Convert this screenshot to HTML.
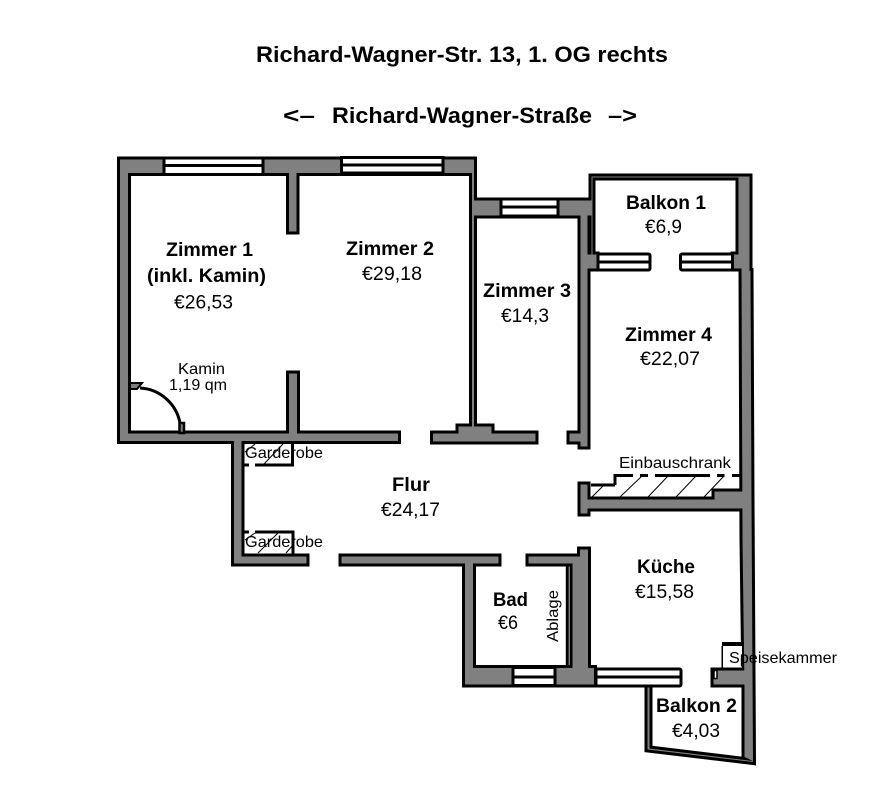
<!DOCTYPE html>
<html><head><meta charset="utf-8"><style>
html,body{margin:0;padding:0;background:#fff}
svg{display:block}
text{font-family:"Liberation Sans",sans-serif;fill:#000}
.b{font-weight:bold;font-size:19.5px}
.r{font-size:19.5px}
.s{font-size:16px}
.t{font-weight:bold;font-size:22px}
</style></head><body>
<svg width="890" height="792" viewBox="0 0 890 792" xmlns="http://www.w3.org/2000/svg">
<rect width="890" height="792" fill="#fff"/>
<defs><g id="w">
<rect x="120" y="159.5" width="353.5" height="13.5"/>
<rect x="120" y="159.5" width="8" height="281.5"/>
<rect x="120" y="433.5" width="278" height="7.5"/>
<rect x="289" y="159.5" width="7.5" height="72"/>
<rect x="289" y="373.5" width="8" height="67.5"/>
<rect x="472" y="159.5" width="2" height="275"/>
<polygon points="433,433.5 458.5,433.5 458.5,426.5 491.5,426.5 491.5,433.5 535.5,433.5 535.5,441.5 433,441.5"/>
<rect x="472" y="200.5" width="120" height="15"/>
<rect x="580.5" y="200.5" width="7" height="246"/>
<rect x="569.5" y="433.5" width="12.5" height="8"/>
<rect x="591.5" y="176.5" width="1" height="92"/>
<rect x="591.5" y="176.5" width="158" height="1"/>
<rect x="586" y="254.5" width="10.5" height="14"/>
<rect x="733.5" y="254.5" width="14.5" height="14"/>
<polygon points="738.5,176.5 749.5,176.5 749.5,271 750.5,271 751.5,500 753,761 744.5,757 744.5,690 742.5,540 741.5,268.5 738.5,268.5"/>
<polygon points="580.5,484.5 587.5,484.5 587.5,499.5 714.5,499.5 714.5,491.5 745,491.5 745,508.5 587.5,508.5 587.5,513.5 580.5,513.5"/>
<rect x="234" y="436" width="7.5" height="127.5"/>
<rect x="234" y="556.5" width="72.5" height="7"/>
<rect x="341.5" y="556.5" width="157" height="7"/>
<polygon points="528.5,556.5 580,556.5 580,549.5 588,549.5 588,668 572.5,668 572.5,563.5 528.5,563.5"/>
<rect x="465" y="556.5" width="8" height="128"/>
<rect x="465" y="668" width="129" height="16.5"/>
<rect x="713.5" y="670.5" width="32" height="14"/>
<polygon points="647.5,684 649.5,684 649.5,748.5 744.5,760 753,761 753,762 647.5,749.5"/>
</g></defs>
<use href="#w" fill="#000" stroke="#000" stroke-width="6" stroke-linejoin="miter"/>
<use href="#w" fill="#808080"/>

<!-- windows -->
<g fill="#fff" stroke="#000" stroke-width="3">
<rect x="164" y="158" width="99" height="16.5"/>
<rect x="341.5" y="157.5" width="101.5" height="15.5"/>
<rect x="501" y="199" width="57" height="17"/>
<rect x="598" y="254" width="52" height="16" rx="1.5"/>
<rect x="680.5" y="254" width="52" height="16" rx="1.5"/>
<rect x="513" y="667.5" width="42" height="18"/>
<rect x="596" y="669" width="85" height="17" rx="1.5"/>
<rect x="714" y="670.5" width="3" height="8" stroke-width="1.5"/>
</g>
<g stroke="#000" stroke-width="3">
<line x1="164" y1="165.5" x2="263" y2="165.5"/>
<line x1="341.5" y1="165" x2="443" y2="165"/>
<line x1="501" y1="207" x2="558" y2="207"/>
<line x1="598" y1="262" x2="650" y2="262"/>
<line x1="680.5" y1="262" x2="732.5" y2="262"/>
<line x1="513" y1="677" x2="555" y2="677"/>
<line x1="596" y1="677" x2="681" y2="677"/>
</g>

<!-- Kamin door -->
<path d="M140,388 A43,43 0 0 1 180,423" fill="none" stroke="#000" stroke-width="3"/>
<polygon points="130,383 142,383 137,389 130,389" fill="#808080" stroke="#000" stroke-width="2"/>
<rect x="179.5" y="423" width="4.5" height="10" fill="#808080" stroke="#000" stroke-width="2.5"/>

<!-- Ablage -->
<line x1="567.3" y1="565" x2="567.3" y2="666" stroke="#000" stroke-width="3"/>

<!-- Garderobe -->
<g stroke="#000" stroke-width="3" fill="none">
<path d="M244,465 H249 M255,465 H292.5 V443"/>
<path d="M244,532 H249 M255,532 H293 V554"/>
<path d="M615,485 H591 M615,485 V475.5 H633 M640,475.5 H648 M655,475.5 H710 M717,475.5 H724.5 M732,475.5 H740" />
</g>
<g stroke="#000" stroke-width="1" fill="none">
<path d="M245,452 L255,444 M264,464 L283,444"/>
<path d="M245,540 L255,533 M258,553 L278,533 M286,553 L293,545"/>
<path d="M592,497 L603,486 M620,497 L642,476 M648,497 L668,476 M676,497 L696,476 M704,497 L724,476"/>
<path d="M722,646 V668"/>
</g>
<path d="M722,644 H744" stroke="#000" stroke-width="4"/>
<rect x="723" y="646" width="19" height="21.5" fill="#fff"/>
<path d="M722.5,646 V668 M722,668 H744" stroke="#000" stroke-width="1"/>

<!-- titles -->
<text class="t" x="256" y="62" textLength="412" lengthAdjust="spacingAndGlyphs">Richard-Wagner-Str. 13, 1. OG rechts</text>
<text class="t" x="283" y="123" textLength="32" lengthAdjust="spacingAndGlyphs">&lt;–</text>
<text class="t" x="332" y="123" textLength="260" lengthAdjust="spacingAndGlyphs">Richard-Wagner-Straße</text>
<text class="t" x="608" y="123" textLength="29" lengthAdjust="spacingAndGlyphs">–&gt;</text>

<!-- rooms -->
<text class="b" x="166" y="256" textLength="87" lengthAdjust="spacingAndGlyphs">Zimmer 1</text>
<text class="b" x="147" y="282" textLength="119" lengthAdjust="spacingAndGlyphs">(inkl. Kamin)</text>
<text class="r" x="174" y="308.5" textLength="59" lengthAdjust="spacingAndGlyphs">€26,53</text>
<text class="b" x="346" y="255" textLength="88" lengthAdjust="spacingAndGlyphs">Zimmer 2</text>
<text class="r" x="362" y="280" textLength="60" lengthAdjust="spacingAndGlyphs">€29,18</text>
<text class="b" x="483" y="297" textLength="88" lengthAdjust="spacingAndGlyphs">Zimmer 3</text>
<text class="r" x="501" y="322" textLength="48" lengthAdjust="spacingAndGlyphs">€14,3</text>
<text class="b" x="626" y="209" textLength="80" lengthAdjust="spacingAndGlyphs">Balkon 1</text>
<text class="r" x="645" y="233" textLength="37" lengthAdjust="spacingAndGlyphs">€6,9</text>
<text class="b" x="625" y="341" textLength="87" lengthAdjust="spacingAndGlyphs">Zimmer 4</text>
<text class="r" x="640" y="365" textLength="60" lengthAdjust="spacingAndGlyphs">€22,07</text>
<text class="b" x="392" y="491" textLength="38" lengthAdjust="spacingAndGlyphs">Flur</text>
<text class="r" x="381" y="516" textLength="59" lengthAdjust="spacingAndGlyphs">€24,17</text>
<text class="b" x="637" y="573" textLength="58" lengthAdjust="spacingAndGlyphs">Küche</text>
<text class="r" x="635" y="598" textLength="59" lengthAdjust="spacingAndGlyphs">€15,58</text>
<text class="b" x="493" y="606" textLength="35" lengthAdjust="spacingAndGlyphs">Bad</text>
<text class="r" x="498" y="629" textLength="20" lengthAdjust="spacingAndGlyphs">€6</text>
<text class="b" x="656" y="712" textLength="81" lengthAdjust="spacingAndGlyphs">Balkon 2</text>
<text class="r" x="672" y="737" textLength="48" lengthAdjust="spacingAndGlyphs">€4,03</text>

<!-- small labels -->
<text class="s" x="178" y="374" textLength="47" lengthAdjust="spacingAndGlyphs">Kamin</text>
<text class="s" x="169" y="390" textLength="58" lengthAdjust="spacingAndGlyphs">1,19 qm</text>
<text class="s" x="245" y="458" textLength="78" lengthAdjust="spacingAndGlyphs">Garderobe</text>
<text class="s" x="245" y="547" textLength="78" lengthAdjust="spacingAndGlyphs">Garderobe</text>
<text class="s" x="619" y="468" textLength="112" lengthAdjust="spacingAndGlyphs">Einbauschrank</text>
<text class="s" x="729" y="663" textLength="108" lengthAdjust="spacingAndGlyphs">Speisekammer</text>
<text class="s" transform="translate(558,642) rotate(-90)" textLength="52" lengthAdjust="spacingAndGlyphs">Ablage</text>
</svg>
</body></html>
